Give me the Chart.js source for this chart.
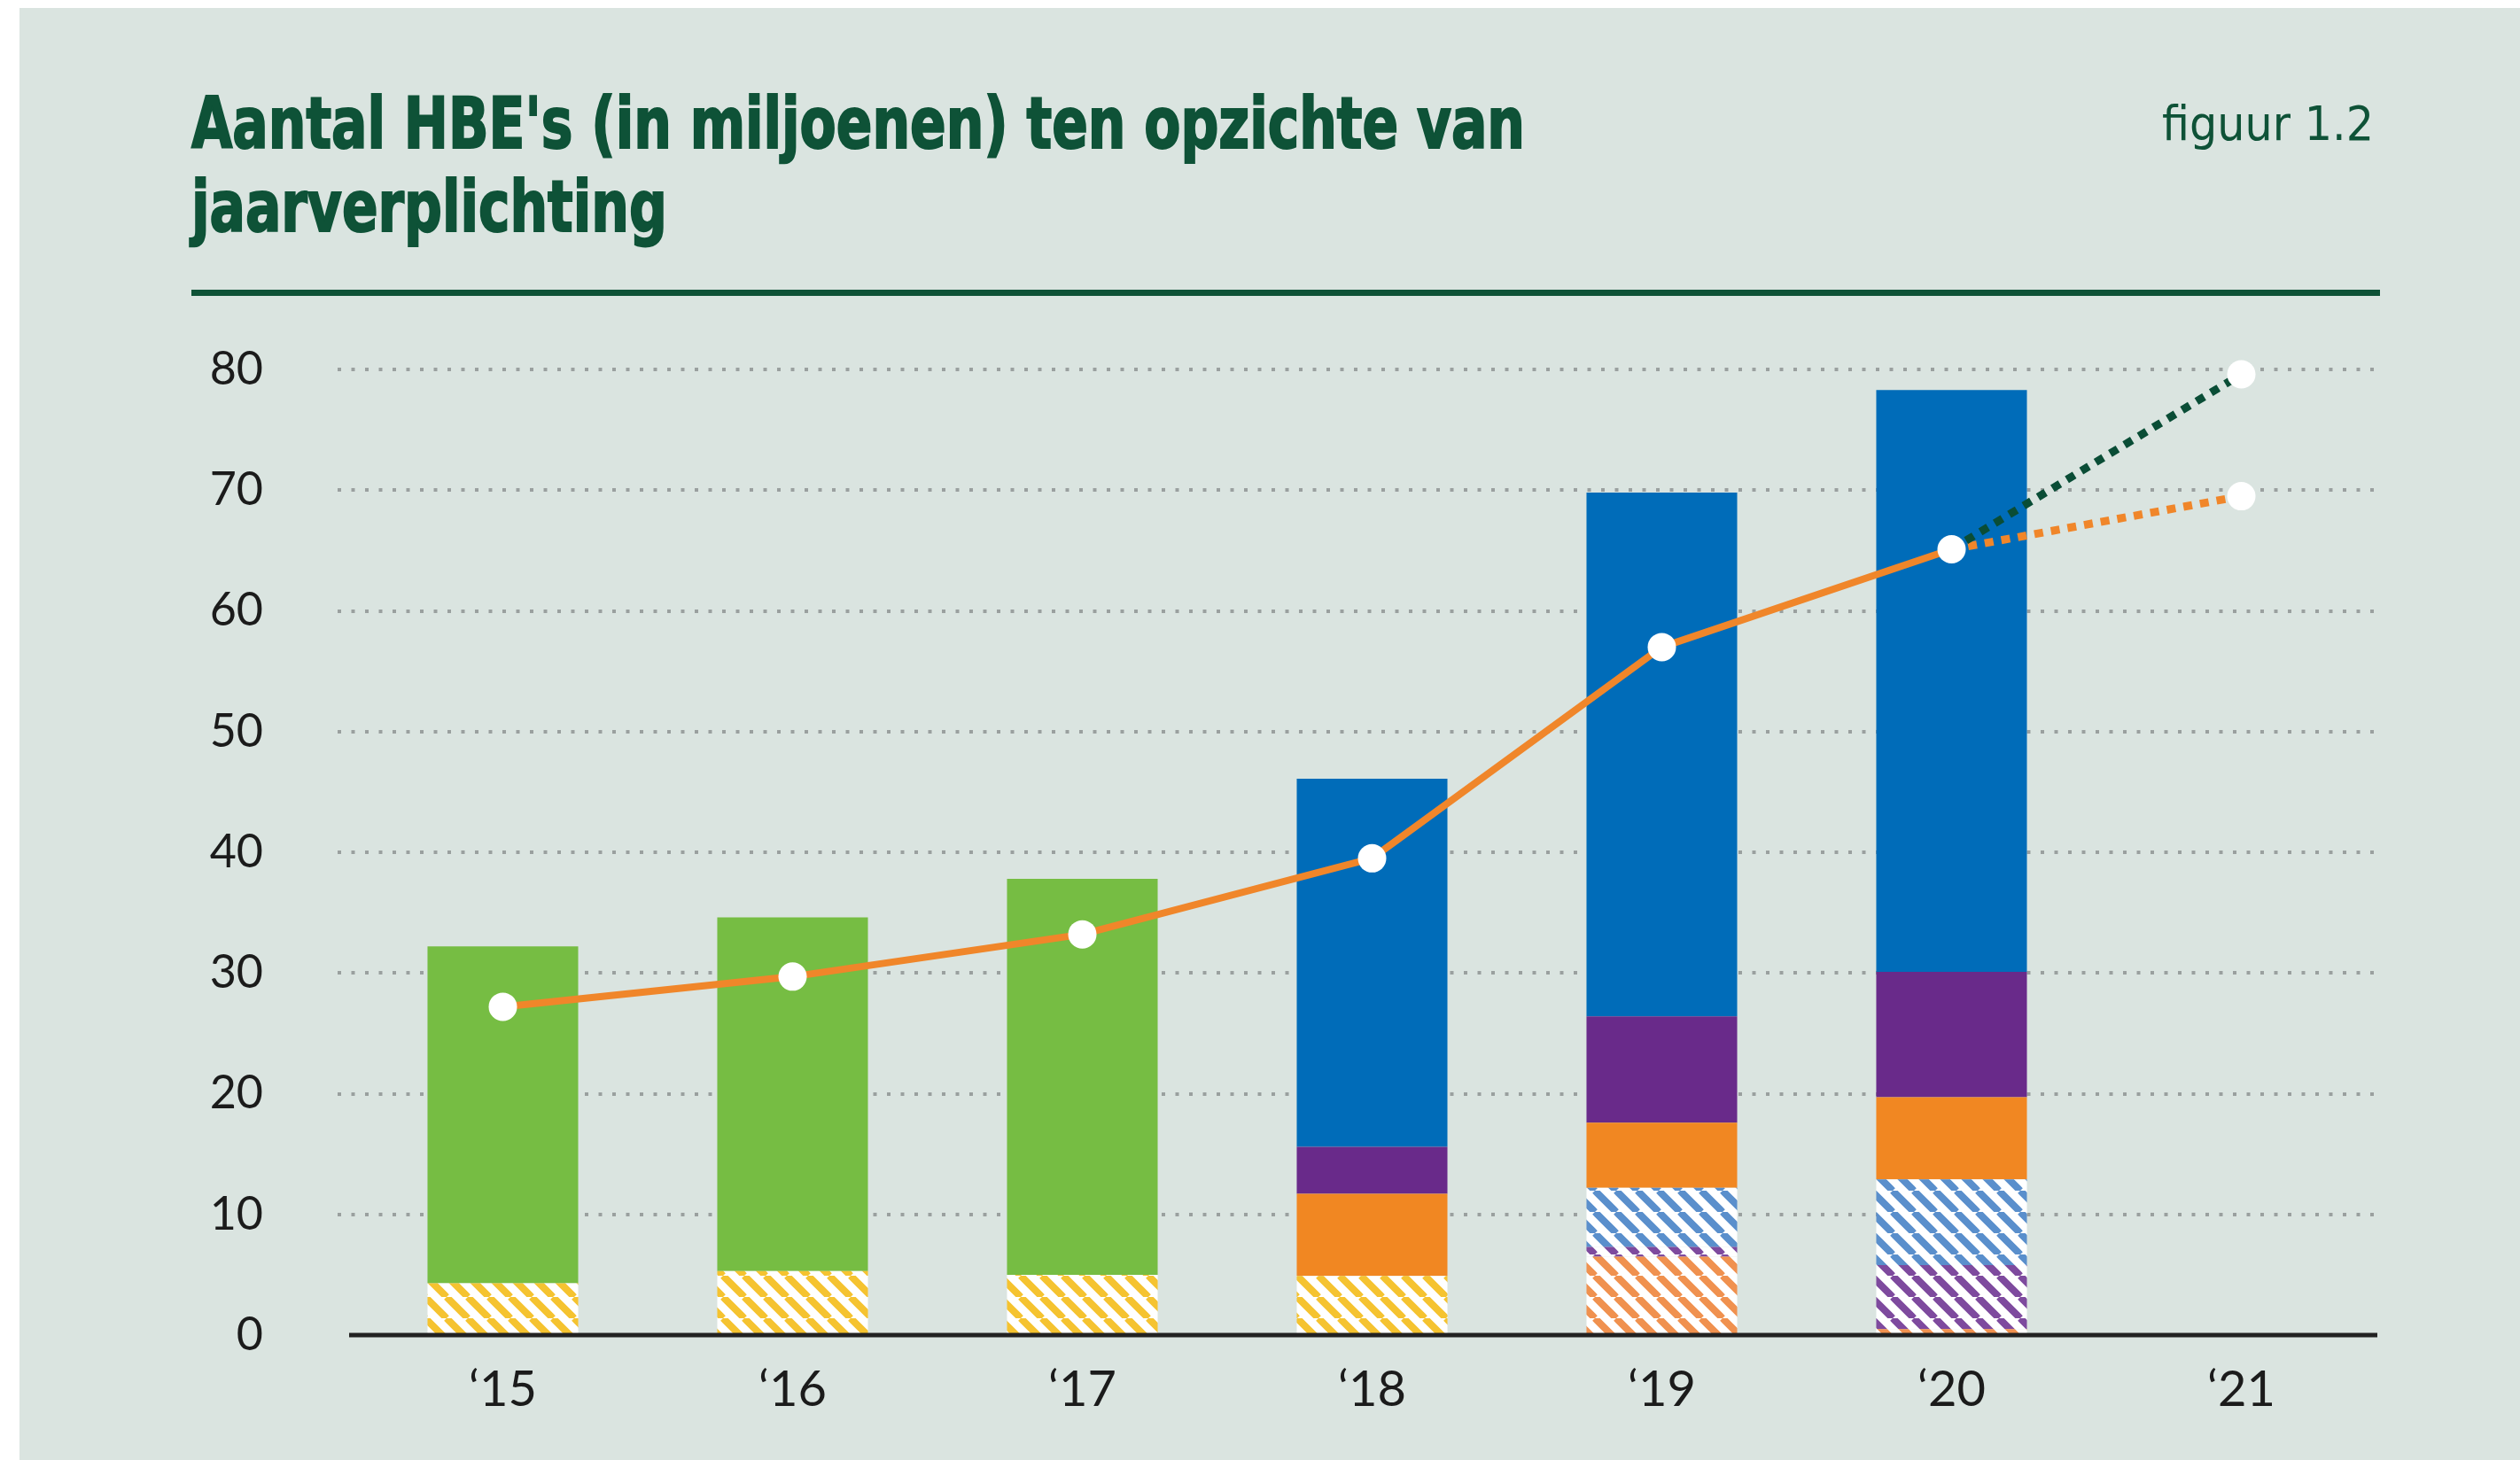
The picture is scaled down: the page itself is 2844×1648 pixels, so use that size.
<!DOCTYPE html>
<html>
<head>
<meta charset="utf-8">
<script src="https://cdn.jsdelivr.net/npm/chart.js@4.4.1/dist/chart.umd.min.js"></script>
<style>
	html, body { margin: 0; padding: 0; background: #fff; }
	#paneel { position: absolute; left: 22px; top: 9px; width: 2822px; height: 1639px; background: #dae4e0; }
	#grafiek { position: absolute; left: 0; top: 0; }
</style>
</head>
<body>
<div id="paneel"></div>
<canvas id="grafiek" width="2844" height="1648"></canvas>
<script>
// jaren op de x-as
const jaren = ["‘15", "‘16", "‘17", "‘18", "‘19", "‘20", "‘21"];
const yTicks = [0, 10, 20, 30, 40, 50, 60, 70, 80];

// gestapelde staven (miljoenen HBE's), van onder naar boven
const geelGearceerd = [4.3, 5.3, 5.0, 4.9, 0, 0, 0];
const oranjeGearceerd = [0, 0, 0, 0, 6.5, 0.5, 0];
const paarsGearceerd = [0, 0, 0, 0, 0.8, 5.3, 0];
const blauwGearceerd = [0, 0, 0, 0, 4.9, 7.1, 0];
const groen = [27.9, 29.3, 32.8, 0, 0, 0, 0];
const oranje = [0, 0, 0, 6.8, 5.4, 6.8, 0];
const paars = [0, 0, 0, 3.9, 8.8, 10.4, 0];
const blauw = [0, 0, 0, 30.5, 43.4, 48.2, 0];

// jaarverplichting en prognoses
const jaarverplichting = [27.2, 29.7, 33.2, 39.5, 57.0, 65.1, null];
const prognoseHoog = [null, null, null, null, null, 65.1, 79.6];
const prognoseLaag = [null, null, null, null, null, 65.1, 69.5];

const tekstGroen = "#0e5237";
const lijnOranje = "#f0862a";

// maakt een schuin gearceerd patroon (wit met gekleurde strepen)
function arcering(kleur) {
	const s = 24;
	const tegel = document.createElement("canvas");
	tegel.width = s;
	tegel.height = s;
	const c = tegel.getContext("2d");
	c.fillStyle = "#ffffff";
	c.fillRect(0, 0, s, s);
	c.strokeStyle = kleur;
	c.lineWidth = 8;
	c.beginPath();
	for (let k = -1; k <= 1; k++) {
		c.moveTo(k * s, 0);
		c.lineTo(k * s + s, s);
	}
	c.stroke();
	return c.createPattern(tegel, "repeat");
}

// tekst op breedte schalen (smal lettertype nabootsen)
function schaalTekst(ctx, tekst, breedte) {
	return breedte / ctx.measureText(tekst).width;
}

const kader = {
	id: "kader",
	beforeDraw(chart) {
		const ctx = chart.ctx;
		ctx.save();
		ctx.fillStyle = tekstGroen;
		ctx.strokeStyle = tekstGroen;
		ctx.textBaseline = "alphabetic";

		// titel
		ctx.font = "bold 80px 'Liberation Sans Narrow', 'DejaVu Sans Condensed', 'Liberation Sans', sans-serif";
		const regel1 = "Aantal HBE's (in miljoenen) ten opzichte van";
		const f = schaalTekst(ctx, regel1, 1505);
		ctx.save();
		ctx.translate(216, 167);
		ctx.scale(f, 1);
		ctx.lineWidth = 2;
		ctx.fillText(regel1, 0, 0);
		ctx.strokeText(regel1, 0, 0);
		ctx.fillText("jaarverplichting", 0, 94);
		ctx.strokeText("jaarverplichting", 0, 94);
		ctx.restore();

		// figuurnummer
		ctx.font = "54px 'Liberation Sans Narrow', 'DejaVu Sans Condensed', 'Liberation Sans', sans-serif";
		const fig = "figuur 1.2";
		const g = schaalTekst(ctx, fig, 239);
		ctx.save();
		ctx.translate(2679, 158);
		ctx.scale(g, 1);
		ctx.textAlign = "right";
		ctx.fillText(fig, 0, 0);
		ctx.restore();

		// dikke lijn onder de titel
		ctx.fillStyle = tekstGroen;
		ctx.fillRect(216, 327, 2470, 7);
		ctx.restore();
	},
	beforeDatasetsDraw(chart) {
		// gestippelde hulplijnen
		const { ctx, chartArea, scales } = chart;
		ctx.save();
		ctx.strokeStyle = "#9aa09f";
		ctx.lineWidth = 4;
		ctx.setLineDash([4, 11.5]);
		yTicks.slice(1).forEach((v) => {
			const y = Math.round(scales.y.getPixelForValue(v));
			ctx.beginPath();
			ctx.moveTo(chartArea.left - 23, y);
			ctx.lineTo(chartArea.right - 7, y);
			ctx.stroke();
		});
		ctx.restore();
	},
	afterDatasetsDraw(chart) {
		// nul-as
		const { ctx, chartArea, scales } = chart;
		const y = scales.y.getPixelForValue(0);
		ctx.save();
		ctx.strokeStyle = "#222222";
		ctx.lineWidth = 5;
		ctx.beginPath();
		ctx.moveTo(chartArea.left - 10, y);
		ctx.lineTo(chartArea.right - 10, y);
		ctx.stroke();
		ctx.restore();
	},
};

function staaf(label, data, kleur) {
	return {
		type: "bar",
		label: label,
		data: data,
		backgroundColor: kleur,
		borderWidth: 0,
		stack: "hbe",
		order: 3,
		categoryPercentage: 1,
		barPercentage: 0.52,
	};
}

const datasets = [
	staaf("geel gearceerd", geelGearceerd, arcering("#f5c330")),
	staaf("oranje gearceerd", oranjeGearceerd, arcering("#f0914f")),
	staaf("paars gearceerd", paarsGearceerd, arcering("#7e4a9e")),
	staaf("blauw gearceerd", blauwGearceerd, arcering("#5a8fcc")),
	staaf("groen", groen, "#76bd43"),
	staaf("oranje", oranje, "#f18722"),
	staaf("paars", paars, "#692a8a"),
	staaf("blauw", blauw, "#006cb9"),
	{
		type: "line",
		label: "prognose hoog",
		data: prognoseHoog,
		borderColor: "#0a4d36",
		borderWidth: 9,
		borderDash: [10, 9],
		pointRadius: [0, 0, 0, 0, 0, 0, 16],
		pointBackgroundColor: "#ffffff",
		pointBorderWidth: 0,
		stack: "l1",
		order: 2,
		clip: false,
	},
	{
		type: "line",
		label: "prognose laag",
		data: prognoseLaag,
		borderColor: lijnOranje,
		borderWidth: 9,
		borderDash: [10, 9],
		pointRadius: [0, 0, 0, 0, 0, 0, 16],
		pointBackgroundColor: "#ffffff",
		pointBorderWidth: 0,
		stack: "l2",
		order: 2,
		clip: false,
	},
	{
		type: "line",
		label: "jaarverplichting",
		data: jaarverplichting,
		borderColor: lijnOranje,
		borderWidth: 8,
		pointRadius: 16,
		pointBackgroundColor: "#ffffff",
		pointBorderWidth: 0,
		stack: "l3",
		order: 1,
		clip: false,
	},
];

const ctx = document.getElementById("grafiek");

new Chart(ctx, {
	data: { labels: jaren, datasets: datasets },
	plugins: [kader],
	options: {
		responsive: false,
		animation: false,
		devicePixelRatio: 1,
		layout: { padding: { top: 417, right: 151, bottom: 0, left: 0 } },
		plugins: {
			legend: { display: false },
			tooltip: { enabled: false },
		},
		scales: {
			x: {
				stacked: true,
				offset: true,
				grid: { display: false, drawTicks: false },
				border: { display: false },
				ticks: {
					color: "#1b1b1b",
					padding: 28,
					font: { family: "Lato", size: 56 },
				},
				afterFit(scale) {
					scale.height = 141;
				},
			},
			y: {
				stacked: true,
				min: 0,
				max: 80,
				grid: { display: false, drawTicks: false },
				border: { display: false },
				ticks: {
					stepSize: 10,
					color: "#1b1b1b",
					padding: 107,
					font: { family: "Lato", size: 52 },
				},
				afterFit(scale) {
					scale.width = 404;
				},
			},
		},
	},
});
</script>
</body>
</html>
